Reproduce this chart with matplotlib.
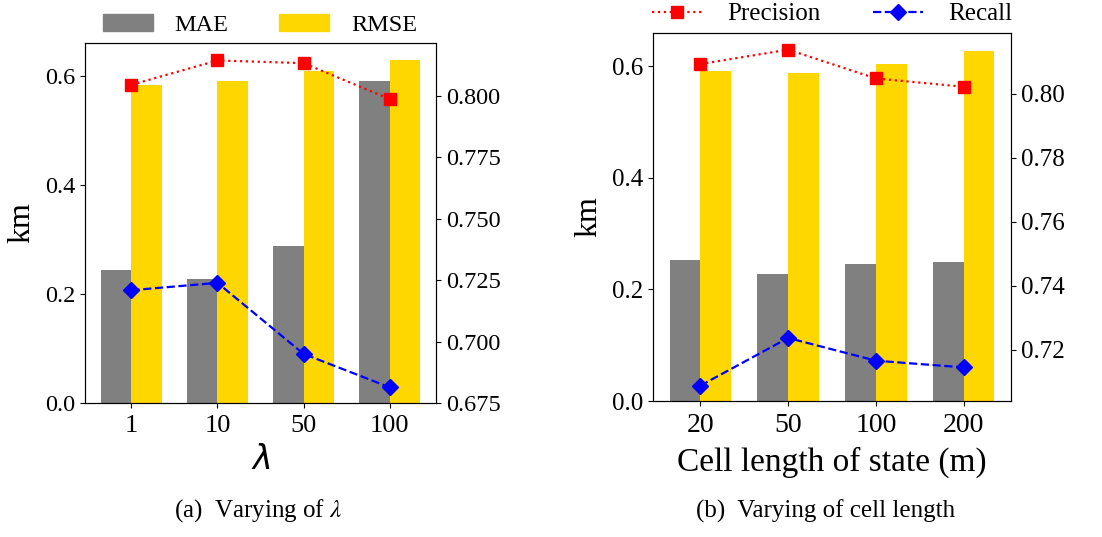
import matplotlib
matplotlib.use("Agg")
import matplotlib.pyplot as plt
import numpy as np
from matplotlib.patches import Patch
from matplotlib.lines import Line2D

plt.rcParams['font.family'] = ['Liberation Serif', 'DejaVu Serif']

# ---- data ----
lam_labels = ['1', '10', '50', '100']
lam_mae = [0.244, 0.228, 0.288, 0.590]
lam_rmse = [0.583, 0.590, 0.609, 0.628]
lam_precision = [0.8045, 0.8144, 0.8133, 0.7987]
lam_recall = [0.7209, 0.7239, 0.6950, 0.6814]

cell_labels = ['20', '50', '100', '200']
cell_mae = [0.252, 0.228, 0.2455, 0.2486]
cell_rmse = [0.591, 0.589, 0.605, 0.628]
cell_precision = [0.8093, 0.8138, 0.8048, 0.8022]
cell_recall = [0.7088, 0.7237, 0.7166, 0.7145]

GRAY = '#808080'
GOLD = '#FFD700'
W, H = 1102, 537

fig = plt.figure(figsize=(W / 100, H / 100), dpi=100)


def rect(x0, y0, x1, y1):
    return [x0 / W, 1 - y1 / H, (x1 - x0) / W, (y1 - y0) / H]


def panel(r, labels, mae, rmse, prec, rec, y2lim, y2ticks, xlabel, xlfs, ytfs, xtfs):
    ax = fig.add_axes(r)
    x = np.arange(len(labels))
    w = 0.35
    ax.bar(x - w / 2, mae, w, color=GRAY, label='MAE')
    ax.bar(x + w / 2, rmse, w, color=GOLD, label='RMSE')
    ax.set_ylim(0, 0.66)
    ax.set_xlim(-0.54, 3.54)
    ax.set_xticks(x)
    ax.set_xticklabels(labels, fontsize=xtfs)
    ax.tick_params(axis='x', pad=5.5)
    ax.set_yticks([0.0, 0.2, 0.4, 0.6])
    ax.tick_params(axis='y', labelsize=ytfs)
    ax.set_ylabel('km', fontsize=23, labelpad=6)
    ax.set_xlabel(xlabel, fontsize=xlfs, labelpad=6)
    ax2 = ax.twinx()
    ax2.plot(x, prec, ':', color='red', marker='s', markersize=8, linewidth=1.6)
    ax2.plot(x, rec, '--', color='blue', marker='D', markersize=8, linewidth=1.6)
    ax2.set_ylim(*y2lim)
    ax2.set_yticks(y2ticks)
    ax2.tick_params(axis='y', labelsize=ytfs)
    return ax, ax2


axL, axL2 = panel(rect(85, 43, 436, 403), lam_labels, lam_mae, lam_rmse,
                  lam_precision, lam_recall, (0.675, 0.8215),
                  [0.675, 0.700, 0.725, 0.750, 0.775, 0.800],
                  r'$\lambda$', 24, 17.5, 19)
axR, axR2 = panel(rect(653, 33, 1011, 401), cell_labels, cell_mae, cell_rmse,
                  cell_precision, cell_recall, (0.704, 0.819),
                  [0.72, 0.74, 0.76, 0.78, 0.80],
                  'Cell length of state (m)', 24, 18, 20)

# legends
fig.legend(handles=[Patch(color=GRAY, label='MAE'), Patch(color=GOLD, label='RMSE')],
           loc='center', bbox_to_anchor=(260 / W, 1 - 25 / H), ncol=2, frameon=False,
           fontsize=17.5, handlelength=2.05, handletextpad=0.9, columnspacing=2.1)
fig.legend(handles=[Line2D([], [], ls=':', color='red', marker='s', markersize=8, lw=1.6, label='Precision'),
                    Line2D([], [], ls='--', color='blue', marker='D', markersize=8, lw=1.6, label='Recall')],
           loc='center', bbox_to_anchor=(832 / W, 1 - 14 / H), ncol=2, frameon=False,
           fontsize=18, handlelength=2.0, handletextpad=1.0, columnspacing=2.1)

# captions
fig.text(258 / W, 1 - 511 / H, r'(a)  Varying of $\lambda$', ha='center', va='center',
         fontsize=18, math_fontfamily='stix')
fig.text(826 / W, 1 - 511 / H, '(b)  Varying of cell length', ha='center', va='center',
         fontsize=18)

fig.savefig('out.png', dpi=100)
